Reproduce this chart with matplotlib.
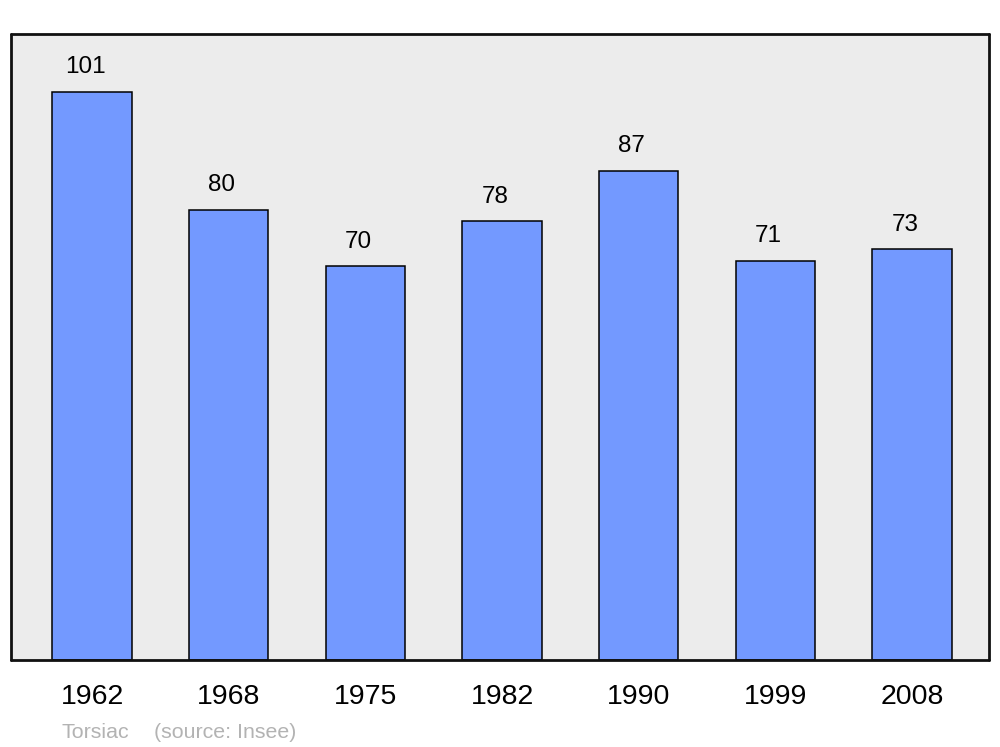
import matplotlib.pyplot as plt

plt.rcParams['font.family'] = ['Liberation Sans', 'DejaVu Sans']

# population by census year
years = ['1962', '1968', '1975', '1982', '1990', '1999', '2008']
population = [101, 80, 70, 78, 87, 71, 73]

fig = plt.figure(figsize=(10, 7.47), dpi=100)
ax = fig.add_axes([0.011, 0.1165, 0.978, 0.838])
ax.set_facecolor('#ececec')

x = list(range(len(years)))
bars = ax.bar(x, population, width=0.58, color='#7399ff',
              edgecolor='black', linewidth=1.1)

# value labels above each bar (a bit left of centre, like the original)
for b, v in zip(bars, population):
    ax.annotate(str(v), (b.get_x() + b.get_width() / 2, v),
                xytext=(-5, 13.5), textcoords='offset points',
                ha='center', va='baseline', fontsize=17.5)

ax.set_xlim(-0.593, 6.563)
ax.set_ylim(0, 111.3)
ax.set_xticks(x)
ax.set_xticklabels(years, fontsize=20.5)
ax.tick_params(axis='x', length=0, pad=17)
ax.set_yticks([])

for s in ax.spines.values():
    s.set_linewidth(2.0)
    s.set_color('#111111')
    s.set_capstyle('round')

fig.text(0.062, 0.012, 'Torsiac', fontsize=15.4, color='#b3b3b3',
         va='baseline')
fig.text(0.154, 0.012, '(source: Insee)', fontsize=15.4, color='#b3b3b3',
         va='baseline')

plt.savefig('out.png', dpi=100)
